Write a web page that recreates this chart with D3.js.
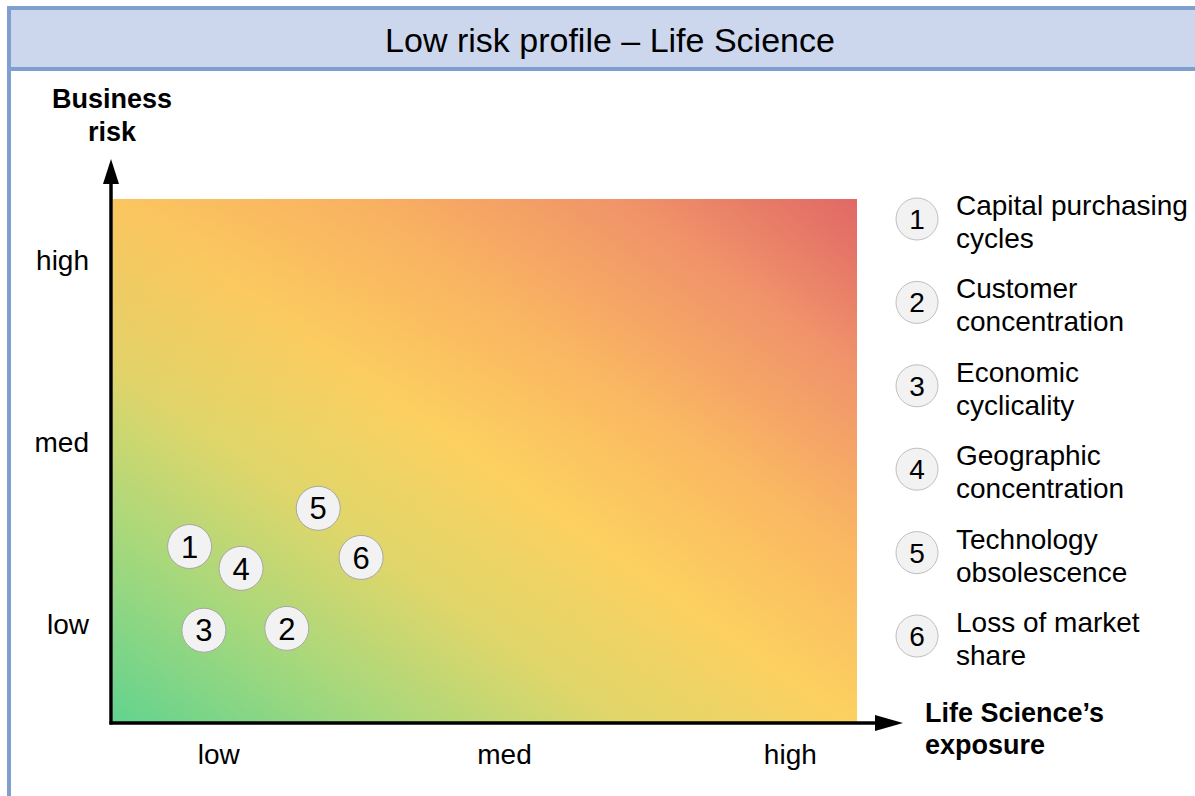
<!DOCTYPE html>
<html lang="en">
    <head>
        <meta charset="utf-8">
        <title>Low risk profile</title>
        <script type="text/javascript" src="https://d3js.org/d3.v7.min.js"></script>
        <style type="text/css">
            body{ margin: 0; background: #fff; }
            text{ font-family: "Liberation Sans", Arial, sans-serif; fill: #000; }
        </style>
    </head>
    <body>
        <svg id="chart" width="1195" height="796"></svg>
        <script type="text/javascript">
        //data
        const chartTitle = "Low risk profile \u2013 Life Science";
        const tickLabels = ["low", "med", "high"];
        const tickValues = [1, 2, 3];
        const riskIds = [1, 2, 3, 4, 5, 6];
        const riskNames = [
            ["Capital purchasing", "cycles"],
            ["Customer", "concentration"],
            ["Economic", "cyclicality"],
            ["Geographic", "concentration"],
            ["Technology", "obsolescence"],
            ["Loss of market", "share"]
        ];
        const exposure = [0.90, 1.24, 0.95, 1.08, 1.35, 1.50];
        const businessRisk = [1.43, 0.98, 0.97, 1.31, 1.64, 1.37];

        const svg = d3.select("#chart");
        const frameColor = "#7f9fcf";

        //scales
        const x = d3.scaleLinear().domain([0.625, 3.235]).range([111, 857]);
        const y = d3.scaleLinear().domain([0.46, 3.34]).range([723, 199]);

        //frame + title band
        svg.append("line")
            .attr("x1", 9).attr("x2", 9).attr("y1", 8).attr("y2", 796)
            .style("stroke", frameColor).style("stroke-width", 4);
        svg.append("rect")
            .attr("x", 9).attr("y", 8).attr("width", 1200).attr("height", 61)
            .style("fill", "#ccd7ee").style("stroke", frameColor).style("stroke-width", 4);
        svg.append("text")
            .attr("x", 610).attr("y", 52)
            .attr("text-anchor", "middle")
            .style("font-size", "34px")
            .text(chartTitle);

        //gradients
        const defs = svg.append("defs");
        const diag = defs.append("linearGradient").attr("id", "diag")
            .attr("x1", 0).attr("y1", 1).attr("x2", 1).attr("y2", 0);
        [[0, "#62d38f"], [0.18, "#a6d87c"], [0.34, "#e0d66a"], [0.5, "#fcd060"],
         [0.66, "#fab862"], [0.84, "#f0926c"], [1, "#dc5c68"]].forEach(s => {
            diag.append("stop").attr("offset", s[0]).attr("stop-color", s[1]);
        });
        const topShade = defs.append("linearGradient").attr("id", "topShade")
            .attr("x1", 0).attr("y1", 0).attr("x2", 0).attr("y2", 1);
        topShade.append("stop").attr("offset", 0).attr("stop-color", "#f39a5c").attr("stop-opacity", 0.2);
        topShade.append("stop").attr("offset", 0.45).attr("stop-color", "#f39a5c").attr("stop-opacity", 0);

        const x0 = x(0.625) + 2, x1 = x(3.235), y0 = y(3.34), y1 = y(0.46) - 1;
        svg.append("rect")
            .attr("x", x0).attr("y", y0).attr("width", x1 - x0).attr("height", y1 - y0)
            .style("fill", "url(#diag)");
        svg.append("rect")
            .attr("x", x0).attr("y", y0).attr("width", x1 - x0).attr("height", y1 - y0)
            .style("fill", "url(#topShade)");

        //axes (labels only)
        const xAxis = d3.axisBottom(x).tickValues(tickValues)
            .tickFormat((d, i) => tickLabels[i]).tickSize(0).tickPadding(21);
        const yAxis = d3.axisLeft(y).tickValues(tickValues)
            .tickFormat((d, i) => tickLabels[i]).tickSize(0).tickPadding(22);
        svg.append("g").attr("transform", "translate(0," + y(0.46) + ")").call(xAxis)
            .call(g => g.select(".domain").remove())
            .selectAll("text").style("font-size", "28px").style("font-family", "Liberation Sans, Arial, sans-serif");
        svg.append("g").attr("transform", "translate(" + x(0.625) + ",0)").call(yAxis)
            .call(g => g.select(".domain").remove())
            .selectAll("text").style("font-size", "28px").style("font-family", "Liberation Sans, Arial, sans-serif");

        //axis lines with arrows
        svg.append("line")
            .attr("x1", x(0.625)).attr("y1", y(0.46) + 1.5).attr("x2", x(0.625)).attr("y2", 180)
            .style("stroke", "#000").style("stroke-width", 3.5);
        svg.append("path")
            .attr("d", `M${x(0.625)},159 L${x(0.625) + 8},184 L${x(0.625) - 8},184 Z`)
            .style("fill", "#000");
        svg.append("line")
            .attr("x1", x(0.625) - 1.5).attr("y1", y(0.46)).attr("x2", 880).attr("y2", y(0.46))
            .style("stroke", "#000").style("stroke-width", 3.5);
        svg.append("path")
            .attr("d", `M903,${y(0.46)} L875,${y(0.46) - 8} L875,${y(0.46) + 8} Z`)
            .style("fill", "#000");

        //axis titles
        svg.append("text")
            .attr("x", 112).attr("y", 108)
            .attr("text-anchor", "middle")
            .style("font-size", "27px").style("font-weight", "bold")
            .selectAll("tspan").data(["Business", "risk"]).join("tspan")
            .attr("x", 112).attr("dy", (d, i) => i ? 33 : 0).text(d => d);
        svg.append("text")
            .attr("x", 925).attr("y", 722)
            .style("font-size", "27px").style("font-weight", "bold")
            .selectAll("tspan").data(["Life Science\u2019s", "exposure"]).join("tspan")
            .attr("x", 925).attr("dy", (d, i) => i ? 32 : 0).text(d => d);

        //bubbles
        const bubbles = svg.selectAll(".bubble")
            .data(riskIds)
            .join("g")
            .attr("class", "bubble")
            .attr("transform", (d, i) => `translate(${x(exposure[i])},${y(businessRisk[i])})`);
        bubbles.append("circle").attr("r", 22)
            .style("fill", "#f2f2f2").style("stroke", "#a6a6a6").style("stroke-width", 1);
        bubbles.append("text")
            .attr("text-anchor", "middle").attr("dy", "0.36em")
            .style("font-size", "31px")
            .text(d => d);

        //legend
        const legend = svg.selectAll(".legend")
            .data(riskIds)
            .join("g")
            .attr("class", "legend")
            .attr("transform", (d, i) => `translate(917,${219 + i * 83.4})`);
        legend.append("circle").attr("r", 21)
            .style("fill", "#f2f2f2").style("stroke", "#bfbfbf").style("stroke-width", 1);
        legend.append("text")
            .attr("text-anchor", "middle").attr("dy", "0.36em")
            .style("font-size", "28px")
            .text(d => d);
        legend.append("text")
            .attr("x", 39).attr("y", -4)
            .style("font-size", "28px")
            .selectAll("tspan").data((d, i) => riskNames[i]).join("tspan")
            .attr("x", 39).attr("dy", (d, i) => i ? 33 : 0).text(d => d);
        </script>
    </body>
</html>
